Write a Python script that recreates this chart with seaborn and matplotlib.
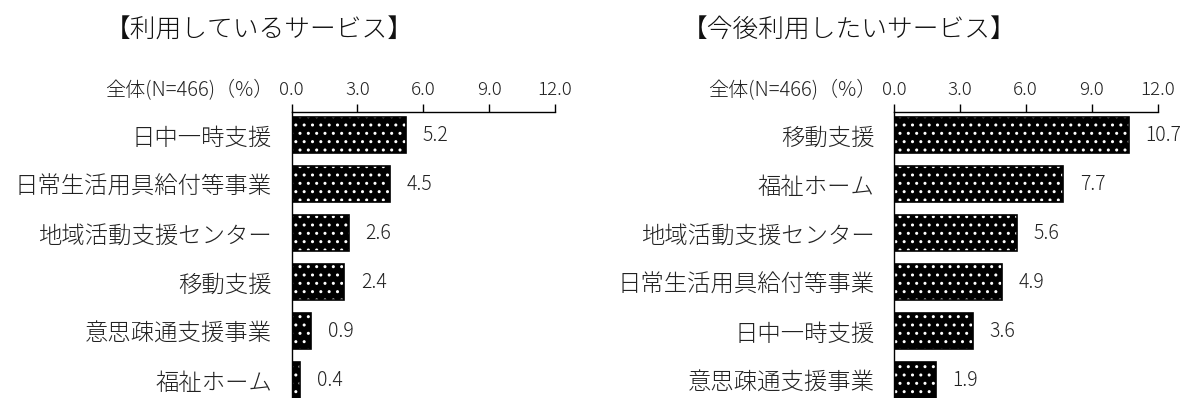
import matplotlib
matplotlib.use("Agg")
import matplotlib.pyplot as plt
import seaborn as sns
import pandas as pd

sns.set_theme(style="white")
plt.rcParams['font.family'] = ['Noto Sans CJK JP', 'DejaVu Sans']
plt.rcParams['font.weight'] = 'light'
plt.rcParams['hatch.linewidth'] = 1.0

title_left = "【利用しているサービス】"
title_right = "【今後利用したいサービス】"
header = "全体(N=466)（%）"

cats_left = ["日中一時支援", "日常生活用具給付等事業", "地域活動支援センター", "移動支援", "意思疎通支援事業", "福祉ホーム"]
vals_left = [5.2, 4.5, 2.6, 2.4, 0.9, 0.4]

cats_right = ["移動支援", "福祉ホーム", "地域活動支援センター", "日常生活用具給付等事業", "日中一時支援", "意思疎通支援事業"]
vals_right = [10.7, 7.7, 5.6, 4.9, 3.6, 1.9]

xticks = [0.0, 3.0, 6.0, 9.0, 12.0]
xtick_labels = ["0.0", "3.0", "6.0", "9.0", "12.0"]

W, H = 1189, 398
fig = plt.figure(figsize=(W / 100, H / 100), dpi=100)

pitch = 49.0
top_px = 112
ylim_top = -0.47
ylim_bot = 5.6
ax_h_px = (ylim_bot - ylim_top) * pitch
ax_w_px = 263.5


def make_panel(x0_px, cats, vals, title, title_x_px):
    ax = fig.add_axes([x0_px / W, 1 - (top_px + ax_h_px) / H, ax_w_px / W, ax_h_px / H])
    df = pd.DataFrame({"cat": cats, "val": vals})
    sns.barplot(data=df, x="val", y="cat", order=cats, color="black", width=0.72,
                ax=ax, saturation=1)
    for p in ax.patches:
        p.set_hatch("..")
        p.set_edgecolor("white")
        p.set_linewidth(0)
    sns.barplot(data=df, x="val", y="cat", order=cats, fill=False, color="black",
                width=0.72, ax=ax, linewidth=1.2, saturation=1)
    ax.set_xlim(0, 12)
    ax.set_ylim(ylim_bot, ylim_top)
    ax.set_xticks(xticks)
    ax.set_xticklabels(xtick_labels)
    ax.xaxis.tick_top()
    ax.tick_params(axis="x", direction="out", length=6, width=1, color="black",
                   labelsize=13.5, pad=3, labelcolor="#222222")
    ax.tick_params(axis="y", length=0, labelsize=16.8, pad=14, labelcolor="#222222")
    ax.set_xlabel("")
    ax.set_ylabel("")
    for s in ["right", "bottom"]:
        ax.spines[s].set_visible(False)
    for s in ["top", "left"]:
        ax.spines[s].set_color("black")
        ax.spines[s].set_linewidth(1)
    for i, v in enumerate(vals):
        ax.annotate(f"{v:.1f}", xy=(v, i), xytext=(12, 0), textcoords="offset points",
                    va="center", ha="left", fontsize=14, color="#222222")
    fig.text((x0_px - 18) / W, 1 - 91 / H, header, ha="right", va="center",
             fontsize=14.5, color="#222222")
    fig.text(title_x_px / W, 1 - 30 / H, title, ha="center", va="center",
             fontsize=18.5, color="#111111")
    return ax


make_panel(291.5, cats_left, vals_left, title_left, 259)
make_panel(894, cats_right, vals_right, title_right, 849)

fig.savefig("out.png", dpi=100)
